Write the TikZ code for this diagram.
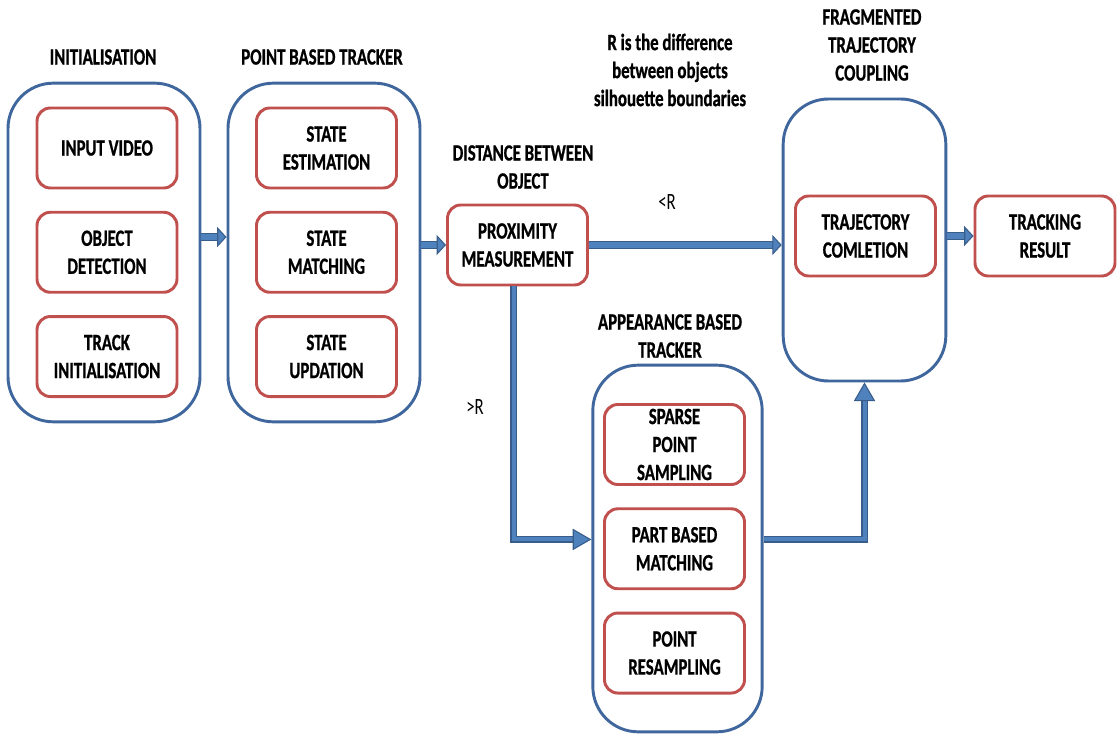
\documentclass[tikz,border=0pt]{standalone}
\usepackage{fontspec}
\setmainfont{Carlito}[FakeStretch=0.72, BoldFeatures={FakeBold=0.8}]
\usetikzlibrary{arrows.meta,positioning}
\definecolor{boxblue}{HTML}{3F679E}
\definecolor{boxred}{HTML}{C0504D}
\definecolor{arrowfill}{HTML}{4F81BD}
\definecolor{arrowedge}{HTML}{385D8A}

\begin{document}
\begin{tikzpicture}[x=0.75pt,y=-0.75pt,
    font=\fontsize{17.5}{21}\selectfont\bfseries,
    node distance=16pt,
    outer/.style={draw=boxblue, line width=2.2pt, rounded corners=34pt, inner sep=0pt},
    inner/.style={draw=boxred, line width=2.2pt, rounded corners=10pt, inner sep=0pt,
        minimum width=105pt, minimum height=60pt, align=center},
    title/.style={align=center},
    cond/.style={font=\fontsize{17.5}{21}\selectfont},
    flow/.style={draw=arrowedge, line width=0.8pt, double=arrowfill, double distance=4.6pt,
        line join=miter, -{Triangle[length=7pt,width=15pt,fill=arrowfill]}},
    bigflow/.style={flow, double distance=3pt, -{Triangle[length=14pt,width=16pt,fill=arrowfill]}}]
\useasboundingbox (0,0) rectangle (1117,734);

% outer boxes
\node[outer, minimum width=144pt, minimum height=254pt] (initbox) at (104,252.5) {};
\node[outer, minimum width=144pt, minimum height=254pt] (pbtbox) at (324,252.5) {};
\node[outer, minimum width=122pt, minimum height=211.5pt] (fragbox) at (864.5,240) {};
\node[outer, minimum width=127pt, minimum height=275pt] (appbox) at (677.5,548.5) {};

% titles
\node[title] (inittitle) at (103,57) {INITIALISATION};
\node[title] (pbttitle) at (322,57) {POINT BASED TRACKER};
\node[title] (disttitle) at (523,167) {DISTANCE BETWEEN\\OBJECT};
\node[title] (fragtitle) at (872,45) {FRAGMENTED\\TRAJECTORY\\COUPLING};
\node[title] (rnote) at (670,70) {R is the difference\\between objects\\silhouette boundaries};
\node[title] (apptitle) at (670,336) {APPEARANCE BASED\\TRACKER};

% initialisation
\node[inner] (input) at (107,148) {INPUT VIDEO};
\node[inner, below=of input] (detect) {OBJECT\\DETECTION};
\node[inner, below=of detect] (trackinit) {TRACK\\INITIALISATION};

% point based tracker
\node[inner] (estim) at (326.5,148) {STATE\\ESTIMATION};
\node[inner, below=of estim] (match) {STATE\\MATCHING};
\node[inner, below=of match] (update) {STATE\\UPDATION};

\node[inner] (prox) at (517.5,245) {PROXIMITY\\MEASUREMENT};
\node[inner] (traj) at (865.5,236) {TRAJECTORY\\COMLETION};
\node[inner] (result) at (1045,236) {TRACKING\\RESULT};

% appearance based tracker
\node[inner] (sparse) at (674.5,444.5) {SPARSE\\POINT\\SAMPLING};
\node[inner, below=of sparse] (partmatch) {PART BASED\\MATCHING};
\node[inner, below=of partmatch] (resample) {POINT\\RESAMPLING};

\node[cond] (less) at (667,202) {<R};
\node[cond] (more) at (475,407) {>R};

\draw[flow] ([yshift=11.6pt]initbox.east) -- ([yshift=11.6pt]pbtbox.west);
\draw[flow] (pbtbox.east |- prox.west) -- (prox.west);
\draw[flow] (prox.east) -- (prox.east -| fragbox.west);
\draw[flow] (traj.east -| fragbox.east) -- (result.west);
\draw[bigflow] ([xshift=-3pt]prox.south) |- ([yshift=7pt]partmatch.west -| appbox.west);
\draw[bigflow] ([yshift=7pt]partmatch.east -| appbox.east) -| (fragbox.south);

\end{tikzpicture}
\end{document}
